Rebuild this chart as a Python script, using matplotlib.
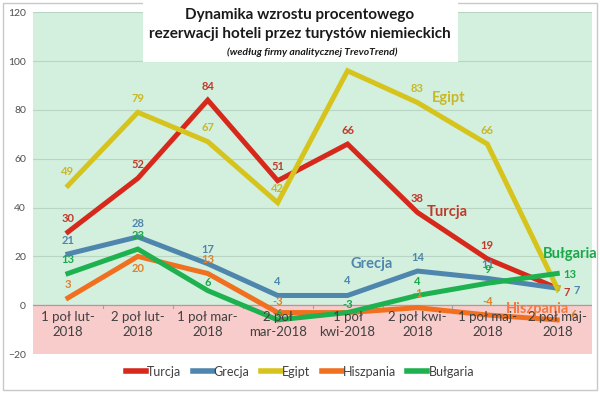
import matplotlib.pyplot as plt
from matplotlib.patches import Rectangle

plt.rcParams['font.family'] = ['Lato', 'DejaVu Sans']

# categories and series
periods = ["1 poł lut-\n2018", "2 poł lut-\n2018", "1 poł mar-\n2018", "2 poł\nmar-2018",
           "1 poł\nkwi-2018", "2 poł kwi-\n2018", "1 poł maj-\n2018", "2 poł maj-\n2018"]
turcja = [30, 52, 84, 51, 66, 38, 19, 7]
grecja = [21, 28, 17, 4, 4, 14, 11, 7]
egipt = [49, 79, 67, 42, 96, 83, 66, 7]
hiszpania = [3, 20, 13, -3, -3, -1, -4, -6]
bulgaria = [13, 23, 6, -6, -3, 4, 9, 13]

series = [
    ("Turcja", turcja, "#d7281c", "#c0392b"),
    ("Grecja", grecja, "#4f86ad", "#4f86ad"),
    ("Egipt", egipt, "#d6c41d", "#c8b828"),
    ("Hiszpania", hiszpania, "#f07020", "#e0802a"),
    ("Bułgaria", bulgaria, "#1db150", "#1aa84a"),
]

# per-label offsets in points (default: above the point)
offsets = {
    ("Grecja", 7): (14, -6), ("Turcja", 7): (7, -7), ("Egipt", 7): (0, -5),
    ("Bułgaria", 7): (9, -5), ("Hiszpania", 7): (11, 0),
    ("Hiszpania", 1): (0, -13), ("Bułgaria", 2): (0, 2),
    ("Bułgaria", 3): (0, 1), ("Hiszpania", 3): (0, 4),
    ("Grecja", 4): (0, 7), ("Bułgaria", 4): (0, 2),
}
skip = {("Egipt", 4), ("Hiszpania", 4)}

fig = plt.figure(figsize=(6.0, 3.93), dpi=100)
ax = fig.add_axes([0.055, 0.099, 0.932, 0.87])

x = list(range(len(periods)))
ax.set_xlim(-0.5, 7.5)
ax.set_ylim(-20, 120)
ax.axhspan(0, 120, color="#d3efdd", zorder=0)
ax.axhspan(-20, 0, color="#f9cccc", zorder=0)
for v in range(20, 121, 20):
    ax.axhline(v, color="#b9d6c4", lw=0.8, zorder=1)
ax.axhline(0, color="#a0a0a0", lw=0.9, zorder=1)
for b in range(1, 8):
    ax.plot([b - 0.5, b - 0.5], [0, -1.2], color="#a0a0a0", lw=0.8, zorder=1)

for name, vals, col, tcol in series:
    ax.plot(x, vals, color=col, lw=3.6, solid_joinstyle="miter", label=name, zorder=3)
    for i, v in enumerate(vals):
        if (name, i) in skip:
            continue
        dx, dy = offsets.get((name, i), (0, 6))
        ax.annotate(str(v), (i, v), xytext=(dx, dy), textcoords="offset points",
                    ha="center", va="bottom", fontsize=8, fontweight="bold",
                    color=tcol, zorder=4)

# series name labels
name_kw = dict(fontsize=10.5, fontweight="bold", ha="center", va="center", zorder=4)
ax.text(5.44, 85, "Egipt", color="#c8b828", **name_kw)
ax.text(5.42, 38, "Turcja", color="#c0392b", **name_kw)
ax.text(4.35, 17, "Grecja", color="#4f86ad", **name_kw)
ax.text(7.18, 21, "Bułgaria", color="#1aa84a", **name_kw)
ax.text(6.72, -1.5, "Hiszpania", color="#f07a40", **name_kw)

# x labels inside the pink zone
ax.set_xticks([])
for i, lab in enumerate(periods):
    ax.text(i, -2.5, lab, ha="center", va="top", fontsize=9.5, color="#404040",
            linespacing=1.3, zorder=4)

ax.set_yticks(range(-20, 121, 20))
ax.tick_params(axis="y", length=0, labelsize=7.5, labelcolor="#505050", pad=5)
for s in ax.spines.values():
    s.set_visible(False)

leg = fig.legend(loc="lower center", bbox_to_anchor=(0.5, 0.01), ncol=5, frameon=False,
                 fontsize=9, handlelength=1.6, columnspacing=0.9, handletextpad=0.1)
for t in leg.get_texts():
    t.set_color("#404040")
for h in leg.get_lines():
    h.set_linewidth(4)

# title box
fig.patches.append(Rectangle((143 / 600, 1 - 62 / 393), 315 / 600, 62 / 393,
                             transform=fig.transFigure, facecolor="white",
                             edgecolor="none", zorder=5))
fig.text(0.5, 1 - 15 / 393, "Dynamika wzrostu procentowego", ha="center", va="center",
         fontsize=11, fontweight="bold", color="#1a1a1a", zorder=6)
fig.text(0.5, 1 - 34 / 393, "rezerwacji hoteli przez turystów niemieckich", ha="center",
         va="center", fontsize=11, fontweight="bold", color="#1a1a1a", zorder=6)
fig.text(0.52, 1 - 52 / 393, "(według firmy analitycznej TrevoTrend)", ha="center",
         va="center", fontsize=7.5, fontweight="bold", style="italic", color="#1a1a1a",
         zorder=6)

# outer border
fig.patches.append(Rectangle((0.005, 0.008), 0.99, 0.985, transform=fig.transFigure,
                             facecolor="none", edgecolor="#c8c8c8", lw=1.0, zorder=0))

fig.savefig("out.png", dpi=100)
